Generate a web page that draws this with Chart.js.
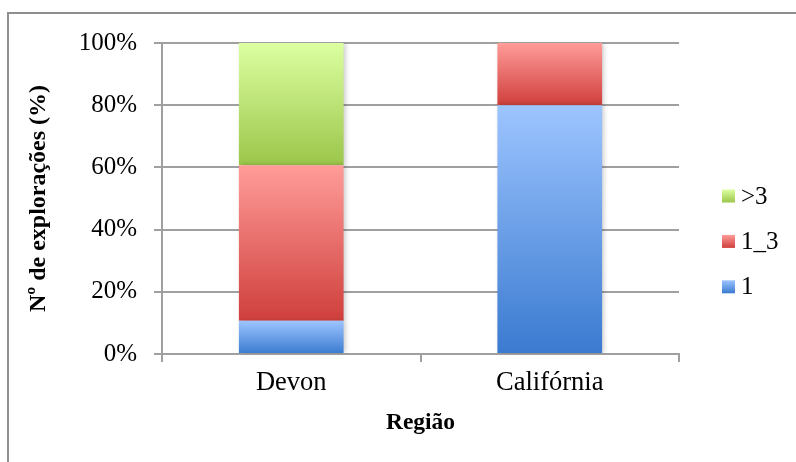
<!DOCTYPE html>
<html>
<head>
<meta charset="utf-8">
<script src="https://cdn.jsdelivr.net/npm/chart.js@4.4.0/dist/chart.umd.min.js"></script>
<style>
  html, body { margin: 0; padding: 0; background: #ffffff; overflow: hidden; }
  #frame { position: absolute; left: 7px; top: 12px; width: 830px; height: 490px;
           border: 2px solid #8f8f8f; box-sizing: border-box; }
  #wrap { position: absolute; left: 0; top: 0; width: 796px; height: 462px; }
</style>
</head>
<body>
<div id="frame"></div>
<div id="wrap"><canvas id="chart" width="796" height="462"></canvas></div>
<script>
// Share of farms (%) per region, split by class
const categories = ['Devon', 'Califórnia'];
const seriesNames = ['1', '1_3', '>3'];
const share1 = [10.7, 80];
const share1to3 = [50.0, 20];
const shareOver3 = [39.3, 0];
const yTickValues = [0, 20, 40, 60, 80, 100];

const seriesData = [share1, share1to3, shareOver3];
// top / bottom colour of each segment's vertical gradient
const seriesStops = [
  ['#9dc5ff', '#3a7ad0'],
  ['#ff9c99', '#cf3f3c'],
  ['#dcffa1', '#9bc64a']
];

const SERIF = "'Liberation Serif', 'Times New Roman', serif";
const GRID = '#a0a0a0';

function segmentFill(seriesIndex) {
  const stops = seriesStops[seriesIndex];
  return (ctx) => {
    const chart = ctx.chart;
    const y = chart.scales && chart.scales.y;
    if (!chart.chartArea || !y || ctx.type !== 'data') return stops[1];
    const i = ctx.dataIndex;
    let start = 0;
    for (let k = 0; k < seriesIndex; k++) start += seriesData[k][i];
    const end = start + seriesData[seriesIndex][i];
    const top = y.getPixelForValue(end);
    const bottom = y.getPixelForValue(start);
    if (!isFinite(top) || !isFinite(bottom) || top === bottom) return stops[1];
    const g = chart.ctx.createLinearGradient(0, top, 0, bottom);
    g.addColorStop(0, stops[0]);
    g.addColorStop(1, stops[1]);
    return g;
  };
}

// soft drop shadow behind the bars
const barShadow = {
  id: 'barShadow',
  beforeDatasetsDraw(chart) {
    const c = chart.ctx;
    c.save();
    c.shadowColor = 'rgba(0,0,0,0.22)';
    c.shadowBlur = 5;
    c.shadowOffsetX = 2;
    c.shadowOffsetY = 0;
  },
  afterDatasetsDraw(chart) { chart.ctx.restore(); }
};

// legend on the right, listed top-down in reverse series order
const sideLegend = {
  id: 'sideLegend',
  afterDraw(chart) {
    const c = chart.ctx;
    const boxX = chart.chartArea.right + 43;
    const box = 13;
    const gap = 45.4;
    const firstTop = 189.5;
    c.save();
    c.font = '25px ' + SERIF;
    c.textBaseline = 'alphabetic';
    c.textAlign = 'left';
    const order = [2, 1, 0];
    order.forEach((s, row) => {
      const top = firstTop + row * gap;
      const g = c.createLinearGradient(0, top, 0, top + box);
      g.addColorStop(0, seriesStops[s][0]);
      g.addColorStop(1, seriesStops[s][1]);
      c.fillStyle = g;
      c.fillRect(boxX, top, box, box);
      c.fillStyle = '#000';
      c.fillText(seriesNames[s], boxX + 19, top + 14);
    });
    c.restore();
  }
};

new Chart(document.getElementById('chart'), {
  type: 'bar',
  data: {
    labels: categories,
    datasets: seriesNames.map((name, s) => ({
      label: name,
      data: seriesData[s],
      backgroundColor: segmentFill(s),
      borderWidth: 0,
      categoryPercentage: 1,
      barPercentage: 0.405
    }))
  },
  plugins: [barShadow, sideLegend],
  options: {
    responsive: false,
    animation: false,
    events: [],
    layout: { padding: { left: 10, top: 43, right: 117, bottom: 0 } },
    plugins: { legend: { display: false }, tooltip: { enabled: false } },
    scales: {
      x: {
        stacked: true,
        afterFit(s) { s.height = 108; },
        grid: { drawOnChartArea: false, drawTicks: true, tickLength: 8, color: GRID, lineWidth: 2 },
        border: { color: GRID, width: 2 },
        ticks: { color: '#000', padding: 5, font: { family: SERIF, size: 26.5 } },
        title: { display: true, text: 'Região', color: '#000',
                 font: { family: SERIF, size: 23.5, weight: 'bold' }, padding: { top: 0, bottom: 25 } }
      },
      y: {
        stacked: true,
        min: 0,
        max: 100,
        afterFit(s) { s.width = 152; },
        afterBuildTicks(s) { s.ticks = yTickValues.map(v => ({ value: v })); },
        grid: { color: GRID, lineWidth: 2, tickLength: 8 },
        border: { color: GRID, width: 2 },
        ticks: { color: '#000', padding: 17, font: { family: SERIF, size: 25 },
                 callback: v => v + '%' },
        title: { display: true, text: 'Nº de explorações (%)', color: '#000',
                 font: { family: SERIF, size: 24, weight: 'bold' }, padding: { top: 14, bottom: 0 } }
      }
    }
  }
});
</script>
</body>
</html>
